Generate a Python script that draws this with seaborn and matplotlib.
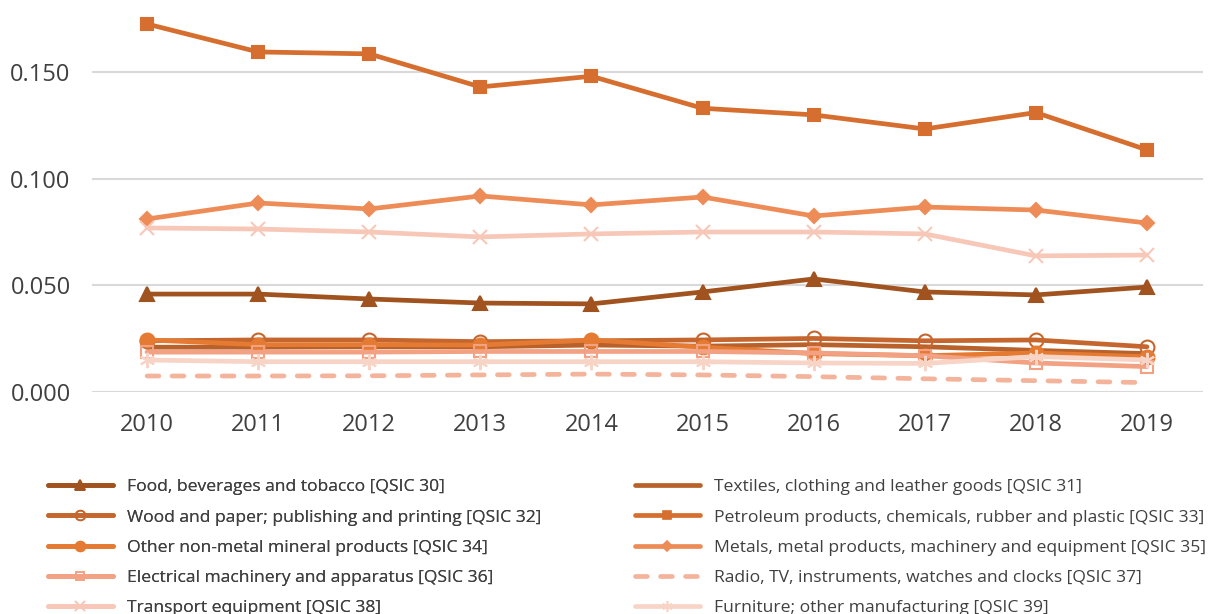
import matplotlib
matplotlib.use("Agg")
import matplotlib.pyplot as plt
import seaborn as sns
import pandas as pd
from matplotlib.lines import Line2D

years = [2010, 2011, 2012, 2013, 2014, 2015, 2016, 2017, 2018, 2019]

food = [0.0459, 0.0459, 0.0436, 0.0417, 0.0413, 0.0469, 0.0530, 0.0469, 0.0455, 0.0492]
textiles = [0.0210, 0.0210, 0.0212, 0.0212, 0.0220, 0.0215, 0.0222, 0.0212, 0.0195, 0.0180]
wood = [0.0240, 0.0244, 0.0244, 0.0236, 0.0240, 0.0244, 0.0251, 0.0240, 0.0244, 0.0212]
petroleum = [0.1725, 0.1594, 0.1585, 0.1430, 0.1480, 0.1330, 0.1299, 0.1233, 0.1310, 0.1135]
nonmetal = [0.0244, 0.0222, 0.0222, 0.0220, 0.0244, 0.0210, 0.0180, 0.0170, 0.0183, 0.0165]
metals = [0.0811, 0.0886, 0.0858, 0.0919, 0.0877, 0.0914, 0.0825, 0.0867, 0.0853, 0.0792]
electrical = [0.0187, 0.0187, 0.0187, 0.0190, 0.0190, 0.0190, 0.0183, 0.0170, 0.0136, 0.0119]
radio = [0.0075, 0.0075, 0.0076, 0.0080, 0.0084, 0.0080, 0.0072, 0.0062, 0.0053, 0.0044]
transport = [0.0769, 0.0764, 0.0750, 0.0727, 0.0741, 0.0750, 0.0750, 0.0741, 0.0638, 0.0642]
furniture = [0.0150, 0.0142, 0.0142, 0.0142, 0.0142, 0.0142, 0.0136, 0.0134, 0.0166, 0.0150]

labels = [
    "Food, beverages and tobacco [QSIC 30]",
    "Textiles, clothing and leather goods [QSIC 31]",
    "Wood and paper; publishing and printing [QSIC 32]",
    "Petroleum products, chemicals, rubber and plastic [QSIC 33]",
    "Other non-metal mineral products [QSIC 34]",
    "Metals, metal products, machinery and equipment [QSIC 35]",
    "Electrical machinery and apparatus [QSIC 36]",
    "Radio, TV, instruments, watches and clocks [QSIC 37]",
    "Transport equipment [QSIC 38]",
    "Furniture; other manufacturing [QSIC 39]",
]
series = [food, textiles, wood, petroleum, nonmetal, metals, electrical, radio, transport, furniture]
yticks = [0.0, 0.05, 0.10, 0.15]
ytick_labels = ["0.000", "0.050", "0.100", "0.150"]

colors = ["#A0521F", "#B9612A", "#C4662D", "#D56E2E", "#E57B33", "#EE8C57",
          "#F2A283", "#F4B49C", "#F7C8B8", "#F8D4C7"]
styles = [
    dict(marker="^", mfc=None, ms=10),
    dict(marker=None),
    dict(marker="o", mfc="none", ms=10),
    dict(marker="s", mfc=None, ms=9),
    dict(marker="o", mfc=None, ms=10),
    dict(marker="D", mfc=None, ms=7),
    dict(marker="s", mfc="none", ms=9),
    dict(marker=None, dashes=(2.5, 2.8)),
    dict(marker="x", mfc=None, ms=10),
    dict(marker=(6, 2, 0), mfc=None, ms=11),
]

sns.set_theme(style="white")
plt.rcParams["font.family"] = ["Open Sans", "DejaVu Sans"]

W, H = 1211, 614
fig = plt.figure(figsize=(W / 100, H / 100), dpi=100)
left, right = 91.5, 1202.5
y0 = 392
ymax = 0.18
ppu = (392 - 72) / 0.15
top = y0 - ymax * ppu
ax = fig.add_axes([left / W, 1 - y0 / H, (right - left) / W, (y0 - top) / H])

lw = 3.4
handles = []
for lab, vals, col, st in zip(labels, series, colors, styles):
    df = pd.DataFrame({"year": years, "value": vals})
    kw = dict(color=col, linewidth=lw, solid_capstyle="round")
    if st.get("marker") is not None:
        kw["marker"] = st["marker"]
        kw["markersize"] = st["ms"]
        kw["markeredgecolor"] = col
        kw["markerfacecolor"] = st["mfc"] if st["mfc"] is not None else col
        kw["markeredgewidth"] = 1.5
    sns.lineplot(data=df, x="year", y="value", ax=ax, legend=False, **kw)
    line = ax.get_lines()[-1]
    if "dashes" in st:
        line.set_dashes(st["dashes"])
        line.set_dash_capstyle("round")
    h = Line2D([], [], color=col, linewidth=lw, solid_capstyle="round",
               marker=kw.get("marker"), markersize=kw.get("markersize", 0) * 0.7,
               markeredgecolor=col, markerfacecolor=kw.get("markerfacecolor", col),
               markeredgewidth=1.2)
    if "dashes" in st:
        h.set_dashes(st["dashes"])
        h.set_dash_capstyle("round")
    handles.append(h)

ax.set_xlim(years[0] - 0.5, years[-1] + 0.5)
ax.set_ylim(0, ymax)
ax.set_xticks(years)
ax.set_xticklabels([str(y) for y in years])
ax.set_yticks(yticks)
ax.set_yticklabels(ytick_labels)
ax.set_xlabel("")
ax.set_ylabel("")
ax.grid(axis="y", color="#D9D9D9", linewidth=1.5)
ax.set_axisbelow(True)
for s in ax.spines.values():
    s.set_visible(False)
ax.tick_params(axis="both", length=0, labelsize=17, colors="#404040")
ax.tick_params(axis="x", pad=15)
ax.tick_params(axis="y", pad=15)

leg_kw = dict(frameon=False, fontsize=12.6, handlelength=3.7, handletextpad=0.8,
              labelspacing=0.8, borderpad=0, borderaxespad=0, labelcolor="#404040")
leg1 = fig.legend([handles[i] for i in (0, 2, 4, 6, 8)], [labels[i] for i in (0, 2, 4, 6, 8)],
                  loc="upper left", bbox_to_anchor=(48 / W, 1 - 479 / H), **leg_kw)
fig.add_artist(leg1)
leg2 = fig.legend([handles[i] for i in (1, 3, 5, 7, 9)], [labels[i] for i in (1, 3, 5, 7, 9)],
                  loc="upper left", bbox_to_anchor=(635 / W, 1 - 479 / H), **leg_kw)

fig.savefig("out.png", dpi=100)
